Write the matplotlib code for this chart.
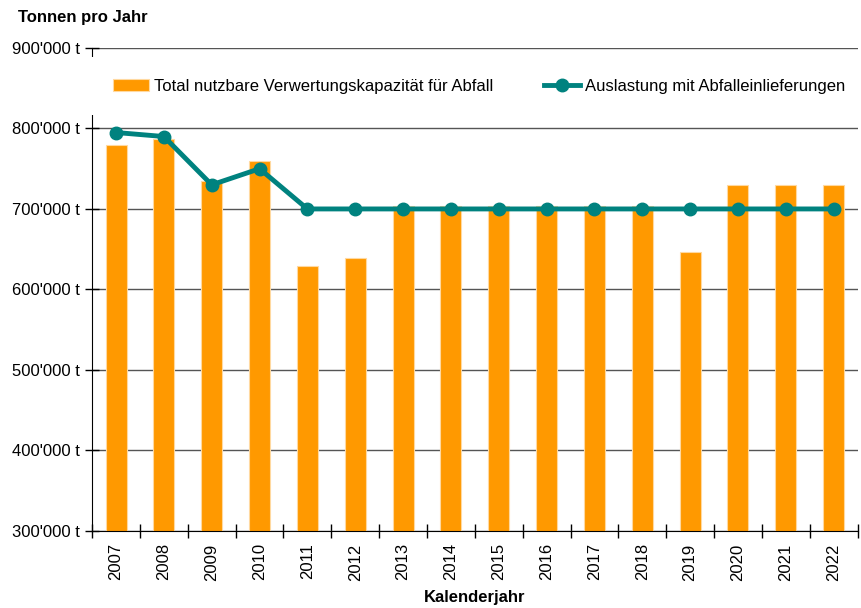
import matplotlib
matplotlib.use("Agg")
import matplotlib.pyplot as plt
from matplotlib.patches import Rectangle
from matplotlib.ticker import FuncFormatter
import numpy as np

plt.rcParams['font.family'] = ['Liberation Sans', 'DejaVu Sans']

years = ['2007', '2008', '2009', '2010', '2011', '2012', '2013', '2014',
         '2015', '2016', '2017', '2018', '2019', '2020', '2021', '2022']
kapazitaet = [779000, 787000, 735000, 760000, 629000, 639000, 704000, 704000,
              704000, 704000, 704000, 704000, 647000, 730000, 730000, 730000]
auslastung = [795000, 790000, 730000, 750000, 700000, 700000, 700000, 700000,
              700000, 700000, 700000, 700000, 700000, 700000, 700000, 700000]

orange = '#FF9900'
teal = '#00827F'

fig = plt.figure(figsize=(8.61, 6.08), dpi=100)
ax = fig.add_axes([0.107, 0.127, 0.889, 0.794])

x = np.arange(len(years))
bars = ax.bar(x, kapazitaet, width=0.44, color=orange, edgecolor='#FFD9A0',
              linewidth=0.8, zorder=2, label='Total nutzbare Verwertungskapazität für Abfall')
line, = ax.plot(x, auslastung, color=teal, lw=3.5, marker='o', markersize=9,
                zorder=3, label='Auslastung mit Abfalleinlieferungen')

ax.set_xlim(-0.5, len(years) - 0.5)
ax.set_ylim(300000, 900000)
ax.set_yticks(np.arange(300000, 900001, 100000))
ax.yaxis.set_major_formatter(FuncFormatter(lambda v, p: f"{int(v):,} t".replace(',', "'")))
ax.set_xticks(x)
ax.set_xticklabels(years, rotation=90)
ax.set_xticks(np.arange(-0.5, len(years)), minor=True)
ax.tick_params(axis='x', which='major', length=0, labelsize=12, pad=9)
ax.tick_params(axis='x', which='minor', direction='inout', length=10, width=1)
ax.tick_params(axis='y', direction='inout', length=10, width=1, labelsize=12, pad=4)
ax.grid(axis='y', color='#555555', lw=1, zorder=1)

for s in ['top', 'right']:
    ax.spines[s].set_visible(False)
ax.spines['left'].set_color('black')
ax.spines['bottom'].set_color('black')

# white band hiding the spine behind the legend
band = Rectangle((-0.02, 0.861), 1.03, 0.12, transform=ax.transAxes,
                 facecolor='white', edgecolor='none', zorder=4, clip_on=False)
ax.add_patch(band)

leg = ax.legend([bars, line], [bars.get_label(), line.get_label()],
                loc='center left', bbox_to_anchor=(0.027, 0.921), ncol=2, frameon=False,
                fontsize=12, handlelength=2.2, handletextpad=0.3, columnspacing=3.0,
                borderpad=0, borderaxespad=0)
leg.set_zorder(5)

fig.text(0.021, 0.972, 'Tonnen pro Jahr', fontsize=12, fontweight='bold', va='center')
ax.set_xlabel('Kalenderjahr', fontsize=12, fontweight='bold', labelpad=7)

fig.savefig('out.png', dpi=100)
